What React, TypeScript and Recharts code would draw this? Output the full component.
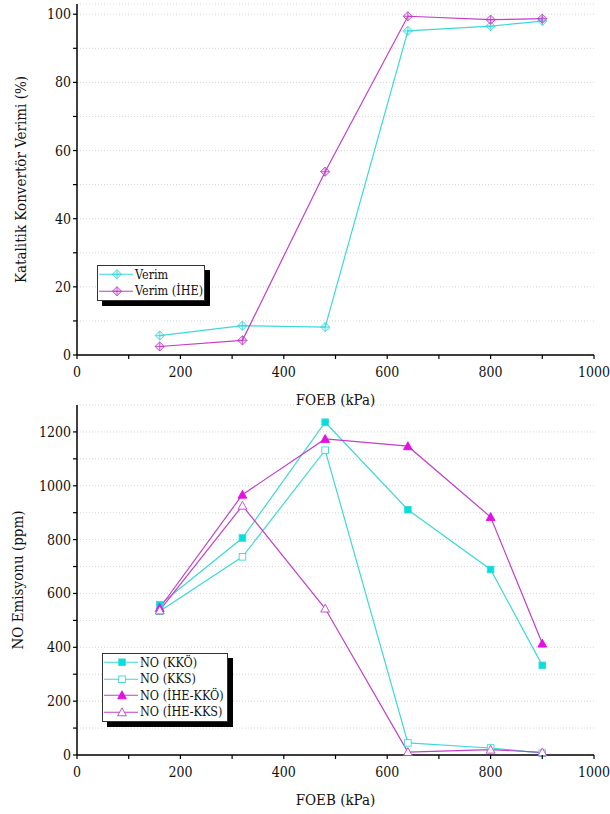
import React from "react";
import { LineChart, Line, XAxis, YAxis, CartesianGrid } from "recharts";

// FOEB (kPa) values shared by both panels
const foeb = [160, 320, 480, 640, 800, 900];

// top panel: catalytic converter efficiency (%)
const verim = [5.7, 8.6, 8.2, 95.1, 96.5, 98.0];
const verimIHE = [2.5, 4.3, 53.8, 99.4, 98.4, 98.7];

// bottom panel: NO emission (ppm)
const noKKO = [558, 806, 1236, 911, 689, 333];
const noKKS = [534, 736, 1132, 45, 26, 7];
const noIHEKKO = [546, 967, 1174, 1147, 884, 414];
const noIHEKKS = [537, 926, 544, 11, 20, 10];

const xTicks = [0, 100, 200, 300, 400, 500, 600, 700, 800, 900, 1000];
const yTicksTop = [0, 10, 20, 30, 40, 50, 60, 70, 80, 90, 100];
const yTicksBottom = [0, 100, 200, 300, 400, 500, 600, 700, 800, 900, 1000, 1100, 1200];

const FONT = "'DejaVu Serif Condensed', 'DejaVu Serif', serif";
const CYAN = "#3ed8d8";
const MAGENTA = "#c23fc8";
const MAGENTA_FILL = "#e60ee6";

const topData = foeb.map((x, i) => ({ x, verim: verim[i], verimIHE: verimIHE[i] }));
const bottomData = foeb.map((x, i) => ({
  x,
  kko: noKKO[i],
  kks: noKKS[i],
  ihekko: noIHEKKO[i],
  ihekks: noIHEKKS[i],
}));

type MarkerKind = "diamond" | "squareFill" | "squareOpen" | "triFill" | "triOpen";

function Marker({ cx, cy, kind, color }: { cx: number; cy: number; kind: MarkerKind; color: string }) {
  if (cx == null || cy == null) return null;
  if (kind === "diamond") {
    const r = 4.6;
    return (
      <g>
        <path
          d={`M${cx},${cy - r}L${cx + r},${cy}L${cx},${cy + r}L${cx - r},${cy}Z`}
          fill={color}
          fillOpacity={0.2}
          stroke={color}
          strokeWidth={0.9}
        />
        <line x1={cx - r} y1={cy} x2={cx + r} y2={cy} stroke={color} strokeWidth={0.8} />
        <line x1={cx} y1={cy - r} x2={cx} y2={cy + r} stroke={color} strokeWidth={0.8} />
      </g>
    );
  }
  if (kind === "squareFill" || kind === "squareOpen") {
    const s = 3.3;
    return (
      <rect
        x={cx - s}
        y={cy - s}
        width={s * 2}
        height={s * 2}
        fill={kind === "squareFill" ? "#00e0e0" : "#fff"}
        stroke={color}
        strokeWidth={0.9}
      />
    );
  }
  const h = 4.4;
  return (
    <path
      d={`M${cx},${cy - h}L${cx + h},${cy + h * 0.8}L${cx - h},${cy + h * 0.8}Z`}
      fill={kind === "triFill" ? MAGENTA_FILL : "#fff"}
      stroke={kind === "triFill" ? MAGENTA_FILL : color}
      strokeWidth={0.9}
    />
  );
}

const dotOf = (kind: MarkerKind, color: string) => (p: any) =>
  <Marker key={`${kind}-${p.index}`} cx={p.cx} cy={p.cy} kind={kind} color={color} />;

const makeYTick = (step: number) => (props: any) => {
  const { x, y, payload } = props;
  const v = payload.value;
  return (
    <g>
      <line x1={x - 4} y1={y} x2={x} y2={y} stroke="#000" strokeWidth={1.2} />
      {v % step === 0 && (
        <text x={x - 6} y={y} dy={5} textAnchor="end" fontSize={14} fontFamily={FONT} fill="#111">
          {v}
        </text>
      )}
    </g>
  );
};

const XTick = (props: any) => {
  const { x, y, payload } = props;
  const v = payload.value;
  return (
    <g>
      <line x1={x} y1={y} x2={x} y2={y + 4} stroke="#000" strokeWidth={1.2} />
      {v % 200 === 0 && (
        <text x={x} y={y} dy={22} textAnchor="middle" fontSize={14} fontFamily={FONT} fill="#111">
          {v}
        </text>
      )}
    </g>
  );
};

const xLabel = (props: any) => {
  const vb = props.viewBox;
  return (
    <text x={vb.x + vb.width / 2} y={vb.y + 50} textAnchor="middle" fontSize={15} fontFamily={FONT} fill="#111">
      FOEB (kPa)
    </text>
  );
};

const yLabel = (text: string, cx: number) => (props: any) => {
  const vb = props.viewBox;
  const cy = vb.y + vb.height / 2;
  return (
    <text
      x={cx}
      y={cy}
      transform={`rotate(-90 ${cx} ${cy})`}
      textAnchor="middle"
      dominantBaseline="central"
      fontSize={15}
      fontFamily={FONT}
      fill="#111"
    >
      {text}
    </text>
  );
};

type LegendRow = { label: string; kind: MarkerKind; color: string };

function LegendBox({ left, top, width, rows }: { left: number; top: number; width: number; rows: LegendRow[] }) {
  const rowH = 16.5;
  return (
    <div
      style={{
        position: "absolute",
        left,
        top,
        width,
        height: rows.length * rowH + 1,
        background: "#fff",
        border: "1px solid #333",
        boxShadow: "5px 5px 0 #000",
        fontFamily: FONT,
        fontSize: 12.5,
        color: "#111",
      }}
    >
      {rows.map((r) => (
        <div key={r.label} style={{ display: "flex", alignItems: "center", height: rowH }}>
          <svg width={36} height={rowH} style={{ flex: "none" }}>
            <line x1={1} y1={rowH / 2} x2={35} y2={rowH / 2} stroke={r.color} strokeWidth={1.2} />
            <Marker cx={19} cy={rowH / 2} kind={r.kind} color={r.color} />
          </svg>
          <span style={{ whiteSpace: "nowrap", marginLeft: 1 }}>{r.label}</span>
        </div>
      ))}
    </div>
  );
}

export default function App() {
  return (
    <div style={{ position: "absolute", left: 0, top: 0, width: 610, height: 814, background: "#fff", overflow: "hidden", fontFamily: FONT }}>
      <div style={{ position: "absolute", left: 0, top: 0 }}>
        <LineChart width={610} height={412} data={topData} margin={{ top: 4, right: 16, bottom: 0, left: 0 }}>
          <CartesianGrid horizontal vertical={false} stroke="#d4d4d4" strokeDasharray="1 2" />
          <XAxis
            dataKey="x"
            type="number"
            domain={[0, 1000]}
            ticks={xTicks}
            height={57}
            tick={<XTick />}
            tickSize={0}
            tickMargin={0}
            tickLine={false}
            axisLine={{ stroke: "#000", strokeWidth: 1.5 }}
            label={xLabel}
          />
          <YAxis
            type="number"
            domain={[0, 103]}
            ticks={yTicksTop}
            width={77}
            tick={makeYTick(20)}
            tickSize={0}
            tickMargin={0}
            tickLine={false}
            axisLine={{ stroke: "#000", strokeWidth: 1.5 }}
            label={yLabel("Katalitik Konvertör Verimi (%)", 21)}
          />
          <Line type="linear" dataKey="verim" stroke={CYAN} strokeWidth={1.2} dot={dotOf("diamond", CYAN)} isAnimationActive={false} />
          <Line type="linear" dataKey="verimIHE" stroke={MAGENTA} strokeWidth={1.2} dot={dotOf("diamond", MAGENTA)} isAnimationActive={false} />
        </LineChart>
      </div>
      <div style={{ position: "absolute", left: 0, top: 400 }}>
        <LineChart width={610} height={414} data={bottomData} margin={{ top: 5, right: 16, bottom: 0, left: 0 }}>
          <CartesianGrid horizontal vertical={false} stroke="#d4d4d4" strokeDasharray="1 2" />
          <XAxis
            dataKey="x"
            type="number"
            domain={[0, 1000]}
            ticks={xTicks}
            height={59}
            tick={<XTick />}
            tickSize={0}
            tickMargin={0}
            tickLine={false}
            axisLine={{ stroke: "#000", strokeWidth: 1.5 }}
            label={xLabel}
          />
          <YAxis
            type="number"
            domain={[0, 1300]}
            ticks={yTicksBottom}
            width={77}
            tick={makeYTick(200)}
            tickSize={0}
            tickMargin={0}
            tickLine={false}
            axisLine={{ stroke: "#000", strokeWidth: 1.5 }}
            label={yLabel("NO Emisyonu (ppm)", 18)}
          />
          <Line type="linear" dataKey="kko" stroke={CYAN} strokeWidth={1.2} dot={dotOf("squareFill", CYAN)} isAnimationActive={false} />
          <Line type="linear" dataKey="kks" stroke={CYAN} strokeWidth={1.2} dot={dotOf("squareOpen", CYAN)} isAnimationActive={false} />
          <Line type="linear" dataKey="ihekko" stroke={MAGENTA} strokeWidth={1.2} dot={dotOf("triFill", MAGENTA)} isAnimationActive={false} />
          <Line type="linear" dataKey="ihekks" stroke={MAGENTA} strokeWidth={1.2} dot={dotOf("triOpen", MAGENTA)} isAnimationActive={false} />
        </LineChart>
      </div>
      <LegendBox
        left={97}
        top={265}
        width={106}
        rows={[
          { label: "Verim", kind: "diamond", color: CYAN },
          { label: "Verim (İHE)", kind: "diamond", color: MAGENTA },
        ]}
      />
      <LegendBox
        left={102}
        top={653}
        width={124}
        rows={[
          { label: "NO (KKÖ)", kind: "squareFill", color: CYAN },
          { label: "NO (KKS)", kind: "squareOpen", color: CYAN },
          { label: "NO (İHE-KKÖ)", kind: "triFill", color: MAGENTA },
          { label: "NO (İHE-KKS)", kind: "triOpen", color: MAGENTA },
        ]}
      />
    </div>
  );
}
